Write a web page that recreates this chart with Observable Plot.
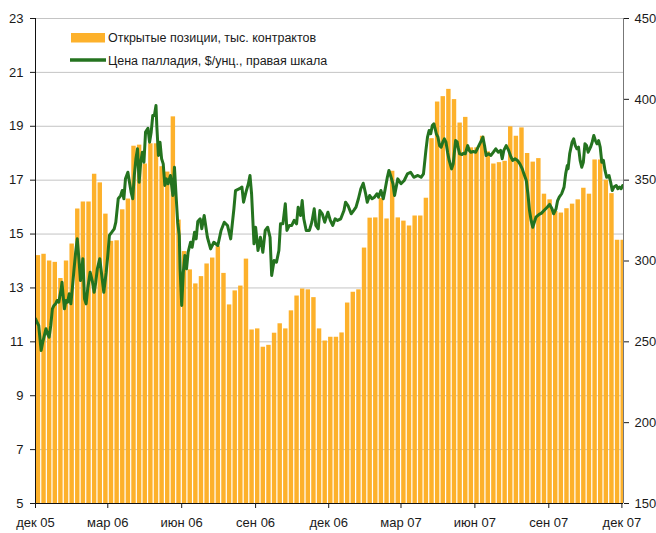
<!DOCTYPE html>
<html>
<head>
<meta charset="utf-8">
<script src="https://cdn.jsdelivr.net/npm/d3@7"></script>
<script src="https://cdn.jsdelivr.net/npm/@observablehq/plot@0.6"></script>
<style>
  html, body { margin: 0; padding: 0; background: #fff; }
  #chart { position: relative; width: 656px; height: 533px; }
</style>
</head>
<body>
<div id="chart"></div>
<script>
// ---------- DATA ----------
// Weekly open interest, thousand contracts (left scale), from week of 1 Dec 2005
const openInterest = [
  14.2, 14.25, 14.0, 13.95, 13.35, 14.0, 14.63, 15.93, 16.19, 16.19,
  17.22, 16.9, 15.74, 14.73, 14.75, 15.9, 16.3, 18.26, 18.3, 17.6,
  18.35, 18.35, 17.5, 17.3, 19.35, 15.52, 14.35, 13.67, 13.15, 13.42,
  13.89, 14.11, 14.53, 13.54, 12.37, 12.89, 13.07, 14.07, 11.44, 11.48,
  10.8, 10.87, 11.32, 11.67, 11.48, 12.15, 12.7, 12.96, 12.93, 12.64,
  11.48, 11.03, 11.17, 11.17, 11.33, 12.44, 12.84, 12.93, 14.48, 15.59,
  15.6, 16.32, 15.56, 17.33, 15.6, 15.48, 15.3, 15.67, 15.67, 16.33,
  18.54, 19.9, 20.1, 20.37, 19.99, 19.12, 19.33, 18.2, 18.2, 18.63,
  18.05, 17.6, 17.65, 17.7, 18.98, 18.63, 18.94, 17.99, 17.67, 17.8,
  16.48, 16.27, 15.84, 15.78, 15.94, 16.11, 16.27, 16.7, 16.48, 17.75,
  17.75, 17.0, 16.5, 14.77, 14.77
];
const firstWeek = "2005-12-01";

// Palladium price, $/oz (right scale): day offset from 1 Dec 2005, price
const priceDays = [
  0,2,4,7,9,11,13,15,17,19,21,23,25,27,29,32,33,34,36,38,40,42,44,46,48,50,52,54,56,59,
  61,63,65,68,71,73,75,77,80,83,85,88,90,92,95,98,100,103,106,108,110,112,115,117,119,121,123,125,127,129,
  131,133,135,137,140,142,144,146,148,150,151,153,155,157,159,161,163,165,168,171,173,175,177,179,180,182,184,186,188,190,
  193,195,198,200,202,205,207,210,214,218,222,227,231,235,239,243,247,249,254,257,259,262,265,267,269,272,274,277,280,283,
  286,289,292,294,297,300,303,305,308,311,313,316,319,322,325,327,330,332,334,337,341,344,347,349,352,354,357,360,364,367,
  370,373,376,380,384,386,389,393,396,399,402,405,408,411,413,416,419,422,425,427,430,433,435,438,440,442,445,447,449,451,
  455,459,463,467,471,476,480,483,486,488,490,492,494,496,499,501,503,505,507,509,511,513,515,518,520,523,525,526,528,531,
  533,535,538,540,542,545,548,551,555,557,559,561,564,567,570,573,576,579,581,583,586,589,592,594,597,600,603,606,608,611,
  613,615,617,619,621,623,627,630,633,637,640,643,645,648,650,652,655,658,660,662,663,665,668,670,672,674,676,678,680,682,
  684,686,688,691,693,695,697,699,701,703,705,707,709,711,714,716,718,720,723,725,727,729,731
];
const priceValues = [
  264.2,262.1,260.1,244.6,249.8,253.9,258.1,255.0,252.9,260.1,270.4,272.5,273.5,275.6,274.5,282.8,286.9,280.7,270.4,275.6,274.5,279.7,273.5,283.8,295.2,305.4,313.7,301.4,287.9,301.4,
  276.6,273.5,282.8,293.1,286.9,280.7,286.9,295.2,301.4,289.0,280.7,293.1,303.4,315.8,317.8,319.9,324.0,338.5,340.5,343.6,338.5,350.8,354.9,348.7,342.6,338.5,352.9,363.2,369.4,348.7,
  361.1,367.3,361.1,379.7,382.1,373.5,379.7,390.0,390.0,396.2,383.8,365.3,373.5,363.2,360.1,346.7,350.8,347.8,352.9,340.5,358.0,340.5,324.0,315.8,295.2,272.5,293.1,303.4,295.2,305.4,
  311.6,308.5,317.8,313.7,324.4,326.1,319.9,328.1,314.7,307.5,311.6,309.6,318.9,324.0,322.0,313.7,332.3,343.6,344.7,345.7,336.4,342.6,347.8,352.9,341.6,310.6,320.9,306.5,314.7,305.4,
  318.9,320.9,314.7,291.0,300.3,299.3,306.5,323.0,323.0,335.4,318.9,322.0,322.0,325.1,323.0,333.3,328.1,337.4,326.1,318.9,318.9,324.0,332.3,322.0,319.9,331.2,329.2,324.0,330.2,325.1,
  322.0,326.1,325.1,326.1,331.2,336.4,334.3,329.2,331.2,333.3,338.5,344.7,348.1,341.6,336.4,340.5,338.5,339.5,341.6,339.5,343.6,338.5,343.6,351.8,356.0,352.9,347.8,340.5,345.7,350.8,
  347.8,349.8,353.9,354.9,351.8,352.9,351.8,353.9,368.4,376.6,380.7,378.7,383.8,384.9,378.7,376.6,371.4,370.4,373.5,375.6,373.5,367.3,362.2,357.0,360.1,374.5,373.5,370.4,366.3,365.9,
  366.7,366.3,371.4,368.4,367.3,367.7,367.3,370.4,374.5,376.6,371.4,365.3,366.3,365.3,367.3,369.4,367.3,368.4,363.2,368.4,371.4,368.4,364.2,362.2,363.2,362.2,360.1,357.0,353.9,349.8,
  341.6,331.2,325.1,320.9,324.0,327.1,328.8,329.6,331.2,333.3,335.0,332.3,329.2,332.3,337.4,339.5,341.6,345.7,353.9,359.1,357.0,366.3,373.5,375.6,371.4,369.4,370.4,362.2,358.0,361.1,
  372.5,371.4,367.3,370.4,373.5,377.6,374.5,372.5,374.5,370.4,361.1,362.2,356.0,351.8,352.9,348.7,343.6,345.7,346.7,344.7,345.7,344.7,346.7
];

const leftTicks = [5, 7, 9, 11, 13, 15, 17, 19, 21, 23];
const gridValues = [7, 9, 11, 13, 15, 17, 19, 21, 23];
const rightTicks = [150, 200, 250, 300, 350, 400, 450];
const xTickDates = ["2005-12-01","2006-03-01","2006-06-01","2006-09-01","2006-12-01","2007-03-01","2007-06-01","2007-09-01","2007-12-01"];
const xTickLabels = ["дек 05","мар 06","июн 06","сен 06","дек 06","мар 07","июн 07","сен 07","дек 07"];
const legendLabels = ["Открытые позиции, тыс. контрактов", "Цена палладия, $/унц., правая шкала"];

// ---------- BUILD ----------
const parse = s => new Date(s + "T00:00:00Z");
const start = parse(firstWeek);
const bars = openInterest.map((v, i) => ({
  x1: d3.utcDay.offset(start, 7 * i),
  x2: d3.utcDay.offset(start, 7 * i + 7),
  v
}));
const price = priceDays.map((d, i) => ({ date: d3.utcDay.offset(start, d), p: priceValues[i] }));
// right scale 150..450 mapped onto left scale 5..23
const toLeft = p => 5 + (p - 150) * (18 / 300);
const fromLeft = y => Math.round((y - 5) * 300 / 18 + 150);
const tickDates = xTickDates.map(parse);
const labelOf = new Map(tickDates.map((d, i) => [+d, xTickLabels[i]]));

const xStart = parse("2005-12-01"), xEnd = parse("2007-12-03");
const ORANGE = "#fdb12b", GREEN = "#24731f";

const plot = Plot.plot({
  width: 656,
  height: 533,
  marginLeft: 35,
  marginRight: 33,
  marginTop: 18,
  marginBottom: 30,
  style: { fontFamily: "'Liberation Sans', Arial, sans-serif", fontSize: "13px", color: "#1a1a1a", background: "#fff", overflow: "visible" },
  x: { type: "utc", domain: [xStart, xEnd], label: null },
  y: { domain: [5, 23], label: null },
  marks: [
    Plot.ruleY(gridValues, { stroke: "#c4c4c4", strokeWidth: 1 }),
    Plot.rectY(bars, { x1: "x1", x2: "x2", y1: 5, y2: "v", fill: ORANGE, insetLeft: 0.7, insetRight: 0.5, clip: true }),
    Plot.line(price, { x: "date", y: d => toLeft(d.p), stroke: GREEN, strokeWidth: 3, strokeLinejoin: "round", clip: true }),
    Plot.ruleX([xStart], { y1: 5, y2: 23, stroke: "#111" }),
    Plot.ruleX([xEnd], { y1: 5, y2: 23, stroke: "#777" }),
    Plot.ruleY([5], { stroke: "#111" }),
    Plot.axisY({ anchor: "left", label: null, ticks: leftTicks, tickSize: 5, tickPadding: 7, tickFormat: d => String(d) }),
    Plot.axisY({ anchor: "right", label: null, ticks: rightTicks.map(toLeft), tickSize: 5, tickPadding: 6, tickFormat: d => String(fromLeft(d)) }),
    Plot.axisX({ label: null, ticks: tickDates, tickSize: 5, tickPadding: 9, tickFormat: d => labelOf.get(+d) })
  ]
});
document.getElementById("chart").appendChild(plot);

// legend (inside the plot area, top-left)
const svg = d3.select(plot);
const lg = svg.append("g")
  .attr("font-family", "'Liberation Sans', Arial, sans-serif")
  .attr("font-size", 12.5)
  .attr("text-anchor", "start")
  .attr("fill", "#1a1a1a");
lg.append("rect").attr("x", 71).attr("y", 33).attr("width", 34).attr("height", 9.5).attr("fill", ORANGE);
lg.append("text").attr("x", 108).attr("y", 42.3).attr("text-anchor", "start").text(legendLabels[0]);
lg.append("line").attr("x1", 70).attr("x2", 106).attr("y1", 60).attr("y2", 60).attr("stroke", GREEN).attr("stroke-width", 3.5);
lg.append("text").attr("x", 108).attr("y", 65).attr("text-anchor", "start").text(legendLabels[1]);
</script>
</body>
</html>
